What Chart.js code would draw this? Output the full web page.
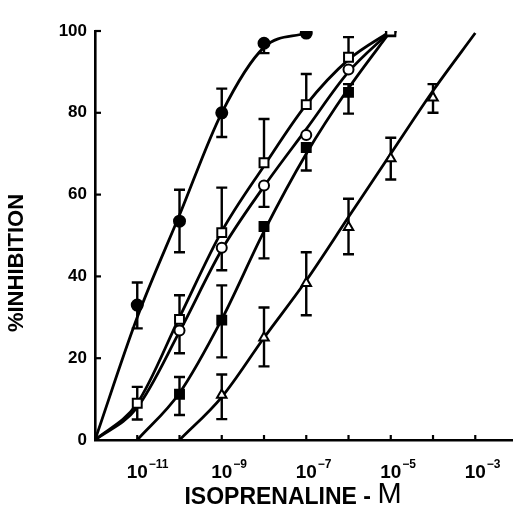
<!DOCTYPE html>
<html>
<head>
<meta charset="utf-8">
<script src="https://cdn.jsdelivr.net/npm/chart.js@4.4.1/dist/chart.umd.min.js"></script>
<style>
  html, body { margin: 0; padding: 0; background: #fff; }
  #wrap { width: 513px; height: 508px; }
</style>
</head>
<body>
<div id="wrap"><canvas id="isoChart" width="513" height="508"></canvas></div>
<script>
// measured points (mean, lower and upper end of error bar)
const filledCircleX = [1e-11, 1e-10, 1e-9, 1e-8, 1e-7];
const filledCircleY = [33, 53.5, 80, 97, 99.5];
const filledCircleLo = [27.3, 45.9, 74.1, 94.6, null];
const filledCircleHi = [38.5, 61.2, 85.9, null, null];

const openSquareX = [1e-11, 1e-10, 1e-9, 1e-8, 1e-7, 1e-6, 1e-5];
const openSquareY = [9, 29.5, 50.7, 67.8, 82, 93.6, 100];
const openSquareLo = [5, null, null, null, null, null, null];
const openSquareHi = [13, 35.4, 61.7, 78.5, 89.5, 98.5, null];

const openCircleX = [1e-10, 1e-9, 1e-8, 1e-7, 1e-6, 1e-5];
const openCircleY = [26.8, 47, 62.2, 74.6, 90.6, 100];
const openCircleLo = [21.2, 41.5, 57, null, null, null];
const openCircleHi = [null, null, null, null, null, null];

const filledSquareX = [1e-10, 1e-9, 1e-8, 1e-7, 1e-6, 1e-5];
const filledSquareY = [11.2, 29.3, 52.2, 71.5, 85, 99.8];
const filledSquareLo = [6.1, 20.2, 44.4, 65.9, 79.8, null];
const filledSquareHi = [15.4, 37.8, null, null, 87, null];

const triangleX = [1e-9, 1e-8, 1e-7, 1e-6, 1e-5, 1e-4];
const triangleY = [11, 25, 38.3, 52, 68.8, 83.7];
const triangleLo = [5.1, 18, 30.5, 45.4, 63.7, 80];
const triangleHi = [16, 32.4, 45.9, 59, 73.9, 87];

// fitted curves
const fitFilledCircleX = [1e-12, 1e-11, 1e-10, 1e-9, 1e-8, 1e-7];
const fitFilledCircleY = [0, 30, 55, 80, 96, 99.5];
const fitOpenSquareX = [1e-12, 1e-11, 1e-10, 1e-9, 1e-8, 1e-7, 1e-6, 1e-5];
const fitOpenSquareY = [0, 9, 30, 51, 67, 82, 93, 100];
const fitOpenCircleX = [1e-12, 1e-11, 1e-10, 1e-9, 1e-8, 1e-7, 1e-6, 1e-5];
const fitOpenCircleY = [0, 8, 26.5, 46.5, 62, 76, 90, 100];
const fitFilledSquareX = [1e-11, 1e-10, 1e-9, 1e-8, 1e-7, 1e-6, 1e-5];
const fitFilledSquareY = [0, 11.5, 29.5, 51, 70, 86, 100];
const fitTriangleX = [1e-10, 1e-9, 1e-8, 1e-7, 1e-6, 1e-5, 1e-4, 1e-3];
const fitTriangleY = [0, 10.5, 25, 39, 54.5, 70, 85.4, 99.5];

// axes
const xTickExps = [-11, -10, -9, -8, -7, -6, -5, -4, -3];
const xLabelExps = [-11, -9, -7, -5, -3];
const yTicks = [0, 20, 40, 60, 80, 100];

const pts = (xs, ys) => xs.map((x, i) => ({ x: x, y: ys[i] }));

const errorSeries = [
  [filledCircleX, filledCircleY, filledCircleLo, filledCircleHi],
  [openSquareX, openSquareY, openSquareLo, openSquareHi],
  [openCircleX, openCircleY, openCircleLo, openCircleHi],
  [filledSquareX, filledSquareY, filledSquareLo, filledSquareHi],
  [triangleX, triangleY, triangleLo, triangleHi]
];

const FONT = '"Liberation Sans", Arial, sans-serif';

const decor = {
  id: 'decor',
  beforeDatasetsDraw(chart) {
    const ctx = chart.ctx, xs = chart.scales.x, ys = chart.scales.y;
    ctx.save();
    ctx.strokeStyle = '#000';
    ctx.lineWidth = 2.4;
    errorSeries.forEach(([X, Y, lo, hi]) => {
      X.forEach((xv, i) => {
        const px = xs.getPixelForValue(xv);
        const py = ys.getPixelForValue(Y[i]);
        [lo[i], hi[i]].forEach(end => {
          if (end == null) return;
          const pe = ys.getPixelForValue(end);
          ctx.beginPath();
          ctx.moveTo(px, py); ctx.lineTo(px, pe);
          ctx.moveTo(px - 5.5, pe); ctx.lineTo(px + 5.5, pe);
          ctx.stroke();
        });
      });
    });
    ctx.restore();
  },
  afterDraw(chart) {
    const ctx = chart.ctx, xs = chart.scales.x, ys = chart.scales.y;
    const a = chart.chartArea;
    ctx.save();
    ctx.strokeStyle = '#000';
    ctx.fillStyle = '#000';
    ctx.lineWidth = 2.2;
    // inward tick marks
    xTickExps.forEach(e => {
      const px = xs.getPixelForValue(Math.pow(10, e));
      ctx.beginPath(); ctx.moveTo(px, a.bottom); ctx.lineTo(px, a.bottom - 5); ctx.stroke();
    });
    yTicks.forEach(v => {
      if (v === 0) return;
      const py = ys.getPixelForValue(v);
      ctx.beginPath(); ctx.moveTo(a.left, py); ctx.lineTo(a.left + 6, py); ctx.stroke();
    });
    // x labels with exponents
    xLabelExps.forEach(e => {
      const px = xs.getPixelForValue(Math.pow(10, e));
      ctx.font = 'bold 19px ' + FONT;
      ctx.textAlign = 'center';
      ctx.textBaseline = 'alphabetic';
      ctx.fillText('10', px, 478);
      const w = ctx.measureText('10').width;
      ctx.font = 'bold 12px ' + FONT;
      ctx.textAlign = 'left';
      ctx.fillText('\u2212' + Math.abs(e), px + w / 2 + 1, 468);
    });
    // x title
    const t1 = 'ISOPRENALINE - ', t2 = 'M';
    ctx.font = 'bold 23px ' + FONT;
    const w1 = ctx.measureText(t1).width;
    ctx.font = '29px ' + FONT;
    const w2 = ctx.measureText(t2).width;
    const sx = 293 - (w1 + w2) / 2;
    ctx.textAlign = 'left';
    ctx.font = 'bold 23px ' + FONT;
    ctx.fillText(t1, sx, 504);
    ctx.font = '29px ' + FONT;
    ctx.fillText(t2, sx + w1, 503);
    // y title
    ctx.translate(17, 263);
    ctx.rotate(-Math.PI / 2);
    ctx.font = 'bold 22px ' + FONT;
    ctx.textAlign = 'center';
    ctx.textBaseline = 'middle';
    ctx.fillText('%INHIBITION', 0, 0);
    ctx.restore();
  }
};

const curve = (xs, ys) => ({
  type: 'line',
  data: pts(xs, ys),
  borderColor: '#000',
  borderWidth: 2.8,
  pointRadius: 0,
  cubicInterpolationMode: 'monotone',
  fill: false,
  order: 2
});
const marker = (xs, ys, style, radius, fillCol) => ({
  type: 'line',
  showLine: false,
  data: pts(xs, ys),
  pointStyle: style,
  pointRadius: radius,
  pointBackgroundColor: fillCol,
  pointBorderColor: '#000',
  pointBorderWidth: 2,
  order: 0
});

new Chart(document.getElementById('isoChart'), {
  data: {
    datasets: [
      marker(filledCircleX, filledCircleY, 'circle', 5.5, '#000'),
      marker(openSquareX, openSquareY, 'rect', 6.3, '#fff'),
      marker(openCircleX, openCircleY, 'circle', 5, '#fff'),
      marker(filledSquareX, filledSquareY, 'rect', 6.3, '#000'),
      marker(triangleX, triangleY, 'triangle', 5.5, '#fff'),
      curve(fitFilledCircleX, fitFilledCircleY),
      curve(fitOpenSquareX, fitOpenSquareY),
      curve(fitOpenCircleX, fitOpenCircleY),
      curve(fitFilledSquareX, fitFilledSquareY),
      curve(fitTriangleX, fitTriangleY)
    ]
  },
  options: {
    responsive: false,
    animation: false,
    devicePixelRatio: 1,
    layout: { autoPadding: false, padding: { top: 31, right: 0, bottom: 0, left: 0 } },
    plugins: { legend: { display: false }, tooltip: { enabled: false } },
    scales: {
      x: {
        type: 'logarithmic',
        min: 1e-12,
        max: Math.pow(10, -2.107),
        grid: { display: false },
        border: { display: true, color: '#000', width: 2.6 },
        ticks: { display: false },
        afterFit(s) { s.height = 68; }
      },
      y: {
        min: 0,
        max: 100,
        grid: { display: false, drawTicks: false },
        border: { display: true, color: '#000', width: 2.6 },
        afterBuildTicks(s) { s.ticks = yTicks.map(v => ({ value: v })); },
        ticks: {
          padding: 8,
          color: '#000',
          font: { family: FONT, size: 17, weight: 'bold' }
        },
        afterFit(s) { s.width = 95; }
      }
    }
  },
  plugins: [decor]
});
</script>
</body>
</html>
